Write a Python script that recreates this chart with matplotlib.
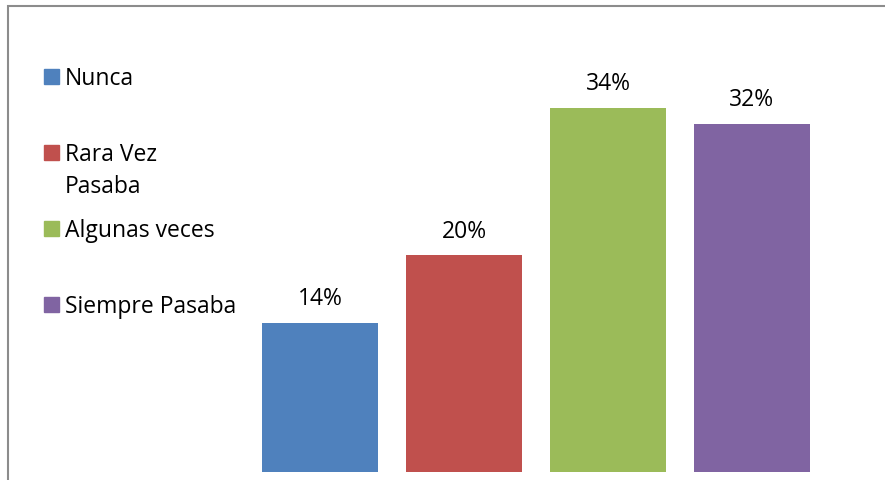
import matplotlib.pyplot as plt
from matplotlib.patches import Rectangle

categorias = ['Nunca', 'Rara Vez', 'Algunas veces', 'Siempre Pasaba']
valores = [13.9, 20.2, 34.0, 32.5]
etiquetas = ['14%', '20%', '34%', '32%']
colores = ['#4F81BD', '#C0504D', '#9BBB59', '#8064A2']

plt.rcParams['font.family'] = ['Open Sans', 'DejaVu Sans']

W, H = 885, 481
fig = plt.figure(figsize=(W / 100, H / 100), dpi=100)

# marco del grafico (solo se ven borde izquierdo y superior)
fig.patches.append(Rectangle((8 / W, -0.1), 1.2, (H - 7) / H + 0.1, transform=fig.transFigure,
                             fill=False, edgecolor='#8c8c8c', linewidth=1.5))

ax = fig.add_axes([248 / W, (H - 472.5) / H, 576 / W, 428 / H])
x = range(len(valores))
barras = ax.bar(x, valores, width=116 / 144, color=colores)
for b, txt in zip(barras, etiquetas):
    ax.annotate(txt, (b.get_x() + b.get_width() / 2, b.get_height()), xytext=(0, 13.5),
                textcoords='offset points', ha='center', va='baseline', fontsize=16.5)
ax.set_xlim(-0.5, 3.5)
ax.set_ylim(0, 40)
ax.axis('off')

# leyenda a la izquierda (base de cada texto en px)
ys = [85, 161, 237, 313]
for y, nombre, c in zip(ys, categorias, colores):
    fig.patches.append(Rectangle((44 / W, (H - y) / H), 15 / W, 15 / H,
                                 transform=fig.transFigure, color=c))
    fig.text(65 / W, (H - y) / H, nombre, fontsize=16.5, va='baseline', ha='left')
fig.text(65 / W, (H - 193) / H, 'Pasaba', fontsize=16.5, va='baseline', ha='left')

fig.savefig('out.png', dpi=100)
